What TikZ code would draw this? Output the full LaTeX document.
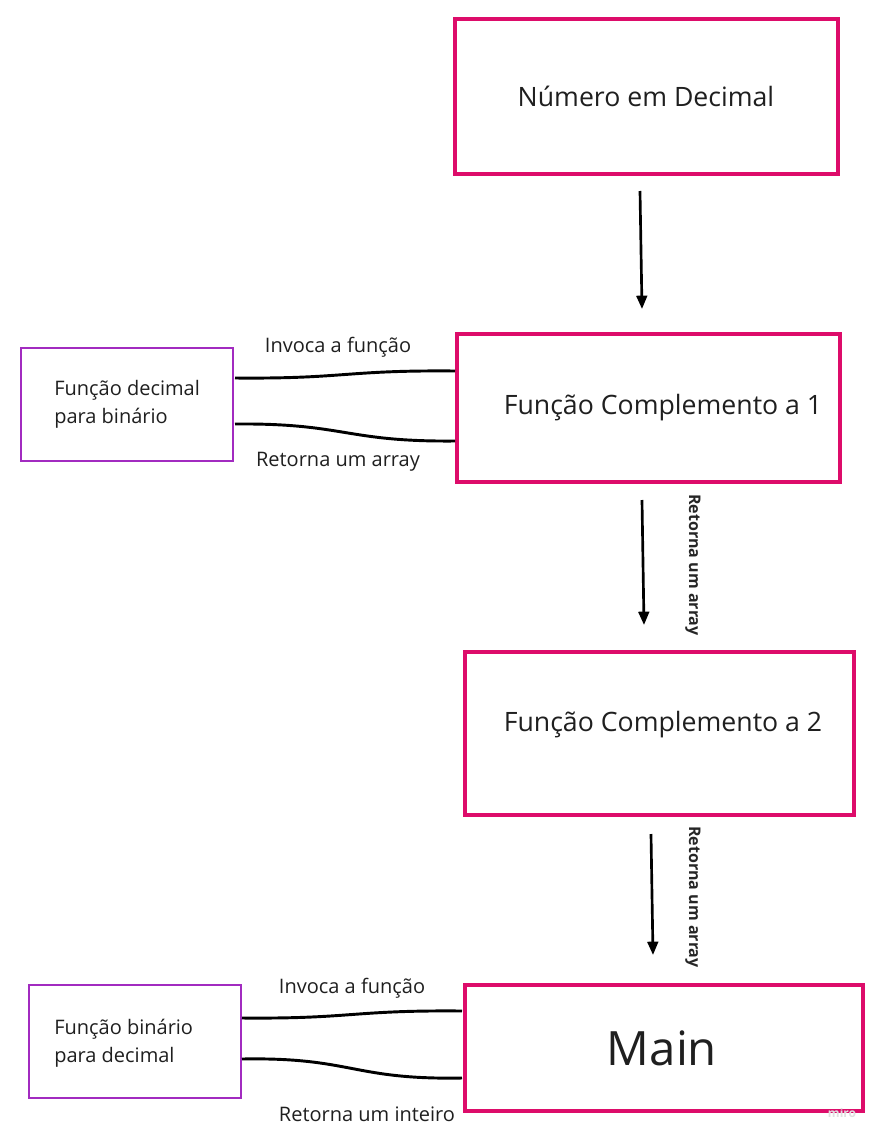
\documentclass[tikz,border=0pt]{standalone}
\usepackage{fontspec}
\setmainfont{Open Sans}
\usetikzlibrary{arrows.meta}
\definecolor{boxpink}{HTML}{DD0C6A}
\definecolor{boxpurple}{HTML}{A22BC0}
\tikzset{
  bigbox/.style={draw=boxpink, line width=2.5pt},
  smallbox/.style={draw=boxpurple, line width=1.6pt},
  flow/.style={line width=2pt, -{Triangle[length=10pt,width=8pt]}},
  wire/.style={line width=2.2pt},
  lbl/.style={font=\fontsize{15}{21}\selectfont, text=black!88},
  vlbl/.style={font=\bfseries\fontsize{12}{14}\selectfont, rotate=-90, text=black!85},
  bigtxt/.style={font=\fontsize{20}{24}\selectfont, text=black!88},
}
\begin{document}
\begin{tikzpicture}[x=0.75pt,y=-0.75pt]
\useasboundingbox (0,0) rectangle (877,1139);
% big boxes
\draw[bigbox] (455,19) rectangle (838,174);
\node[bigtxt] (num) at (646,96) {Número em Decimal};
\draw[bigbox] (457,334) rectangle (840,482);
\node[bigtxt] (c1) at (663,408) {Função Complemento a 1};
\draw[bigbox] (465,652) rectangle (854,815);
\node[bigtxt] (c2) at (663,725) {Função Complemento a 2};
\draw[bigbox] (465,985) rectangle (863,1111);
\node[font=\fontsize{35.5}{40}\selectfont, text=black!88] (main) at (662,1048) {Main};
% small boxes
\draw[smallbox] (21,348) rectangle (233,461);
\node[lbl, anchor=west, align=left, inner sep=0pt] (db) at (54,404) {Função decimal\\para binário};
\draw[smallbox] (29,985) rectangle (241,1098);
\node[lbl, anchor=west, align=left, inner sep=0pt] (bd) at (54,1043) {Função binário\\para decimal};
% coordinates
\coordinate (a1) at (640,191); \coordinate (a2) at (642,309);
\coordinate (b1) at (642,500); \coordinate (b2) at (644,625);
\coordinate (d1) at (651,834); \coordinate (d2) at (653,955);
\draw[flow] (a1) -- (a2);
\draw[flow] (b1) -- (b2);
\draw[flow] (d1) -- (d2);
\node[vlbl] (v1) at (693,565) {Retorna um array};
\node[vlbl] (v2) at (693,897) {Retorna um array};
% wires
\coordinate (w1s) at (235,378); \coordinate (w1e) at (455,371);
\coordinate (w2s) at (235,424); \coordinate (w2e) at (455,441);
\coordinate (w3s) at (242,1018); \coordinate (w3e) at (462,1011);
\coordinate (w4s) at (242,1059); \coordinate (w4e) at (462,1078);
\draw[wire] (w1s) .. controls (345,379) and (345,370) .. (w1e);
\draw[wire] (w2s) .. controls (345,423) and (345,442) .. (w2e);
\draw[wire] (w3s) .. controls (352,1019) and (352,1010) .. (w3e);
\draw[wire] (w4s) .. controls (352,1057) and (352,1080) .. (w4e);
\node[lbl] (l1) at (338,347) {Invoca a função};
\node[lbl] (l2) at (338,462) {Retorna um array};
\node[lbl] (l3) at (352,988) {Invoca a função};
\node[lbl] (l4) at (367,1114) {Retorna um inteiro};
\node[font=\bfseries\fontsize{9}{10}\selectfont, text=black!12] (miro) at (842,1113) {miro};
\end{tikzpicture}
\end{document}
